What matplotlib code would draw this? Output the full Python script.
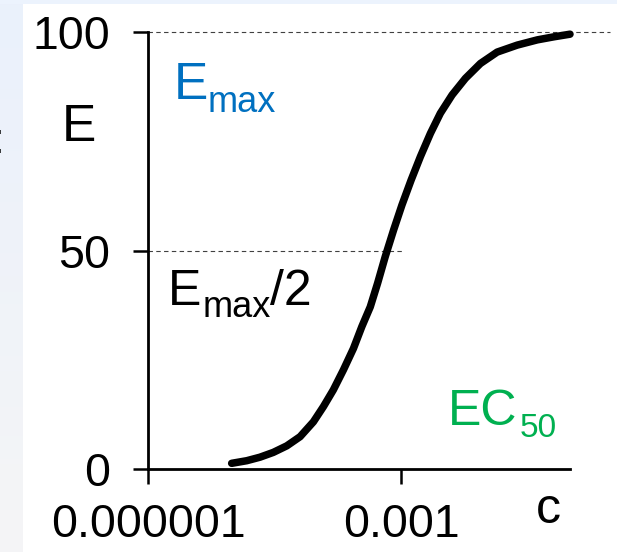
import numpy as np
import matplotlib
matplotlib.use('Agg')
import matplotlib.pyplot as plt

plt.rcParams['font.family'] = ['Liberation Sans', 'DejaVu Sans']

# concentration-effect curve
conc = [9.8e-6, 1.48e-5, 2.12e-5, 3.05e-5, 4.41e-5, 6.34e-5, 9.12e-5, 1.20e-4,
        1.57e-4, 2.07e-4, 2.72e-4, 3.42e-4, 4.30e-4, 5.25e-4, 6.47e-4, 8.13e-4,
        1.02e-3, 1.31e-3, 1.69e-3, 2.22e-3, 2.91e-3, 4.01e-3, 5.77e-3, 8.69e-3,
        1.37e-2, 2.37e-2, 4.10e-2, 6.46e-2, 0.1]
effect = [1.3, 1.9, 2.7, 3.8, 5.3, 7.4, 10.8, 14.3,
          18.1, 22.7, 27.6, 32.6, 37.1, 42.5, 48.6, 54.7,
          60.4, 66.1, 71.5, 76.8, 81.4, 85.6, 89.4, 92.8,
          95.4, 97.0, 98.2, 98.9, 99.5]

xticks = [1e-6, 1e-3]
xticklabels = ['0.000001', '0.001']
yticks = [0, 50, 100]
emax = 100

W, H = 617, 552
fig = plt.figure(figsize=(W / 100, H / 100), dpi=100)
fig.patch.set_facecolor('white')

# slide background strips
bg = fig.add_axes([0, 0, 23 / W, 1])
grad = np.linspace(0, 1, 256).reshape(-1, 1)
top_c = np.array([0.918, 0.945, 0.988])
bot_c = np.array([0.960, 0.960, 0.965])
img = top_c[None, None, :] * (1 - grad[:, :, None]) + bot_c[None, None, :] * grad[:, :, None]
bg.imshow(img, aspect='auto', extent=[0, 1, 0, 1])
bg.axis('off')
tp = fig.add_axes([0, 1 - 4 / H, 1, 4 / H])
tp.set_facecolor('#ecf3fd')
tp.set_xticks([])
tp.set_yticks([])
for s in tp.spines.values():
    s.set_visible(False)
fig.text(-2 / W, 1 - 153 / H, ':', fontsize=30, ha='center', va='baseline')

ax = fig.add_axes([148 / W, 83 / H, 422 / W, 437 / H])
ax.set_facecolor('none')
ax.set_xscale('log')
ax.set_xlim(1e-6, 0.1)
ax.set_ylim(0, 100)

ax.axhline(emax, xmin=0, xmax=1.095, color='#404040', lw=0.8,
           ls=(0, (4, 3)), clip_on=False, zorder=1)
ax.axhline(emax / 2, xmin=0, xmax=0.604, color='#404040', lw=0.8,
           ls=(0, (4, 3)), zorder=1)

ax.plot(conc, effect, color='black', lw=5.4, solid_capstyle='round',
        solid_joinstyle='round', clip_on=False, zorder=3)

for side in ['top', 'right']:
    ax.spines[side].set_visible(False)
for side in ['left', 'bottom']:
    ax.spines[side].set_linewidth(2)

ax.set_xticks(xticks)
ax.set_xticklabels(xticklabels)
ax.xaxis.set_minor_locator(matplotlib.ticker.NullLocator())
ax.set_yticks(yticks)
ax.tick_params(axis='both', length=10.5, width=1.8, labelsize=33.5, direction='out')
ax.tick_params(axis='y', pad=17)
ax.tick_params(axis='x', pad=14)

def px(x, y):
    return x / W, 1 - y / H

def label(x, y, s, size, color='black'):
    fig.text(*px(x, y), s, fontsize=size, color=color, ha='left', va='baseline')

label(62, 141, 'E', 37)
label(536, 523, 'c', 36)

# E_max
label(174, 99, 'E', 37, '#0070c0')
label(208, 112, 'max', 26, '#0070c0')
# E_max/2
label(168, 305, 'E', 36)
label(203, 317, 'max', 26)
label(270, 305, '/2', 36)
# EC_50
label(448, 425, 'EC', 36, '#00b050')
label(520, 437, '50', 24, '#00b050')

fig.savefig('out.png', dpi=100)
